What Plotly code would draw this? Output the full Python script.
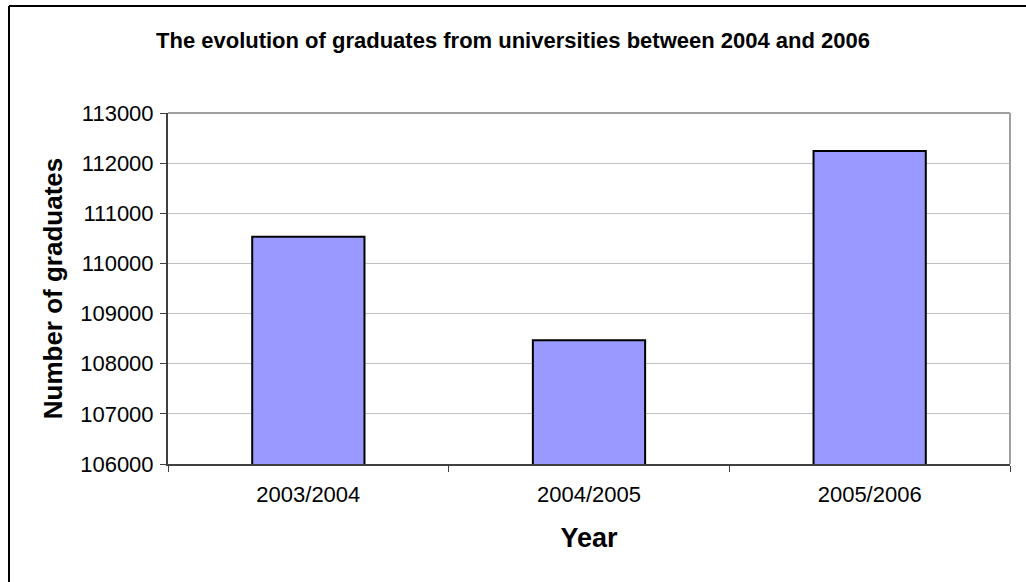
import plotly.graph_objects as go

categories = ["2003/2004", "2004/2005", "2005/2006"]
graduates = [110530, 108470, 112240]
y_ticks = [106000, 107000, 108000, 109000, 110000, 111000, 112000, 113000]

W, H = 1026, 582
L, R, T, B = 168, 1010, 113, 464  # plot area pixel box
pw, ph = R - L, B - T

def px(x):
    return (x - L) / pw

def py(y):
    return (B - y) / ph

fig = go.Figure(go.Bar(
    x=categories, y=graduates,
    marker=dict(color="#9999FF", line=dict(color="#000000", width=2)),
    width=0.4,
))

font = "Liberation Sans, Arial, sans-serif"

fig.update_layout(
    width=W, height=H,
    margin=dict(l=L, r=W - R, t=T, b=H - B),
    paper_bgcolor="white", plot_bgcolor="white",
    showlegend=False,
    title=dict(text="<b>The evolution of graduates from universities between 2004 and 2006</b>",
               x=0.5, xanchor="center", y=1 - 40 / H, yanchor="middle",
               font=dict(family=font, size=22, color="black")),
    font=dict(family=font, color="black"),
)

fig.update_xaxes(
    type="category", tickson="boundaries", ticks="outside", ticklen=6, tickcolor="#404040",
    showline=True, linecolor="#404040", linewidth=2, showgrid=False,
    tickfont=dict(size=22, family=font), range=[-0.5, 2.5], ticklabelstandoff=10,
    title=dict(text="<b>Year</b>", font=dict(size=27, family=font), standoff=22),
)
fig.update_yaxes(
    range=[106000, 113000], tickvals=y_ticks, ticktext=[str(v) for v in y_ticks],
    ticks="outside", ticklen=6, tickcolor="#404040",
    showline=True, linecolor="#404040", linewidth=2,
    showgrid=True, gridcolor="#C0C0C0", gridwidth=1,
    tickfont=dict(size=22, family=font), ticklabelstandoff=2,
    title=dict(text="<b>Number of graduates</b>", font=dict(size=26, family=font), standoff=10),
    zeroline=False,
)

shapes = [
    # plot area border (top/right grey)
    dict(type="line", xref="paper", yref="paper", x0=0, x1=1, y0=1, y1=1,
         line=dict(color="#A0A0A0", width=2)),
    dict(type="line", xref="paper", yref="paper", x0=1, x1=1, y0=0, y1=1,
         line=dict(color="#A0A0A0", width=2)),
    # outer chart frame (left/top visible)
    dict(type="line", xref="paper", yref="paper", x0=px(9), x1=px(9), y0=py(6), y1=py(600),
         line=dict(color="#000000", width=2)),
    dict(type="line", xref="paper", yref="paper", x0=px(9), x1=px(1040), y0=py(6), y1=py(6),
         line=dict(color="#000000", width=2)),
]
fig.update_layout(shapes=shapes)

fig.write_html("out.html")
